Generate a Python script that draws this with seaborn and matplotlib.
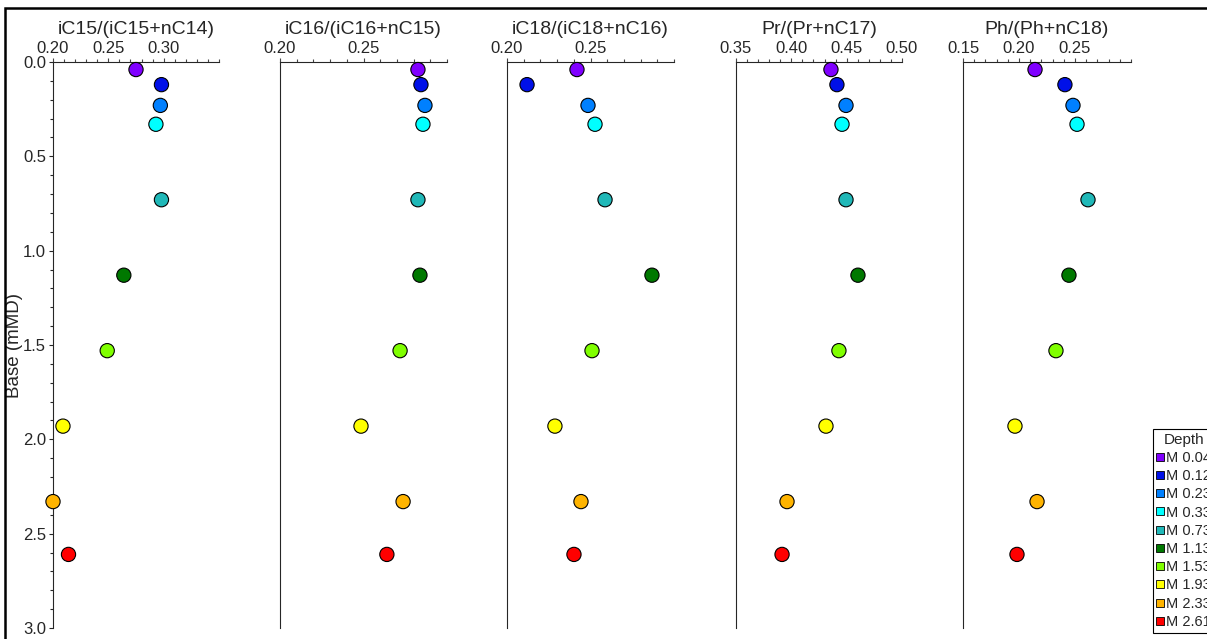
import seaborn as sns
import matplotlib.pyplot as plt
import pandas as pd
from matplotlib.lines import Line2D
from matplotlib.patches import Rectangle
from matplotlib.ticker import MultipleLocator, FixedLocator

sns.set_style("ticks")
plt.rcParams['font.family'] = ['Liberation Sans', 'DejaVu Sans']

# depth of each sample (mMD)
depth = [0.04, 0.12, 0.23, 0.33, 0.73, 1.13, 1.53, 1.93, 2.33, 2.61]
labels = ["M 0.04", "M 0.12", "M 0.23", "M 0.33", "M 0.73",
          "M 1.13", "M 1.53", "M 1.93", "M 2.33", "M 2.61"]
colors = ["#8000ff", "#0010e8", "#0080ff", "#00ffff", "#20b8b8",
          "#007800", "#80ff00", "#ffff00", "#ffb400", "#ff0000"]

ic15 = [0.275, 0.298, 0.297, 0.293, 0.298, 0.264, 0.249, 0.209, 0.200, 0.214]
ic16 = [0.2826, 0.2844, 0.2868, 0.2856, 0.2826, 0.2838, 0.2719, 0.2485, 0.2737, 0.2640]
ic18 = [0.2419, 0.2120, 0.2485, 0.2527, 0.2587, 0.2868, 0.2509, 0.2287, 0.2443, 0.2401]
pr = [0.4358, 0.4412, 0.4494, 0.4458, 0.4494, 0.4602, 0.4430, 0.4313, 0.3961, 0.3916]
ph = [0.2143, 0.2410, 0.2482, 0.2518, 0.2616, 0.2446, 0.2330, 0.1964, 0.2161, 0.1982]

titles = ["iC15/(iC15+nC14)", "iC16/(iC16+nC15)", "iC18/(iC18+nC16)",
          "Pr/(Pr+nC17)", "Ph/(Ph+nC18)"]
xlims = [(0.20, 0.35), (0.20, 0.30), (0.20, 0.30), (0.35, 0.50), (0.15, 0.30)]
xmajor = [[0.20, 0.25, 0.30], [0.20, 0.25], [0.20, 0.25],
          [0.35, 0.40, 0.45, 0.50], [0.15, 0.20, 0.25]]

df = pd.DataFrame({"depth": depth, "label": labels, "iC15": ic15, "iC16": ic16,
                   "iC18": ic18, "Pr": pr, "Ph": ph})
cols = ["iC15", "iC16", "iC18", "Pr", "Ph"]

W, H = 1207, 639
fig = plt.figure(figsize=(W / 100, H / 100), dpi=100)
lefts = [53, 280, 507, 736, 963]
widths = [166, 167, 167, 166, 168]
top, bottom = 62, 628
ah = bottom - top

for i, col in enumerate(cols):
    ax = fig.add_axes([lefts[i] / W, 1 - bottom / H, widths[i] / W, ah / H])
    sns.scatterplot(data=df, x=col, y="depth", hue="label", palette=colors,
                    s=105, edgecolor="black", linewidth=0.8, ax=ax, legend=False,
                    zorder=3, clip_on=False)
    ax.set_xlim(*xlims[i])
    ax.set_ylim(3.0, 0.0)
    ax.xaxis.tick_top()
    ax.xaxis.set_major_locator(FixedLocator(xmajor[i]))
    ax.xaxis.set_minor_locator(MultipleLocator(0.01))
    ax.xaxis.set_major_formatter(plt.FuncFormatter(lambda v, p: f"{v:.2f}"))
    ax.set_xlabel("")
    ax.text(0.5, 1 + 28 / ah, titles[i], transform=ax.transAxes,
            ha="center", va="baseline", fontsize=14)
    for s in ["right", "bottom"]:
        ax.spines[s].set_visible(False)
    ax.spines["top"].set_linewidth(0.8)
    ax.spines["left"].set_linewidth(0.8)
    ax.tick_params(axis="x", which="major", direction="out", length=3, width=0.8,
                   labelsize=12, pad=1, top=True, bottom=False, color="#444444")
    ax.tick_params(axis="x", which="minor", direction="out", length=2, width=0.8,
                   top=True, bottom=False, color="#444444")
    if i == 0:
        ax.yaxis.set_major_locator(MultipleLocator(0.5))
        ax.yaxis.set_minor_locator(MultipleLocator(0.1))
        ax.yaxis.set_major_formatter(plt.FuncFormatter(lambda v, p: f"{v:.1f}"))
        ax.tick_params(axis="y", which="major", direction="out", length=3, width=0.8,
                       labelsize=12, pad=2)
        ax.tick_params(axis="y", which="minor", direction="out", length=2, width=0.8)
        ax.set_ylabel("Base (mMD)", fontsize=13.5)
        ax.yaxis.set_label_coords(-0.18, 0.5)
    else:
        ax.set_yticks([])
        ax.set_ylabel("")

handles = [Line2D([], [], marker="s", linestyle="none", markersize=5.5,
                  markerfacecolor=c, markeredgecolor="black", markeredgewidth=0.6)
           for c in colors]
leg = fig.legend(handles, labels, title="Depth", loc="upper left",
                 bbox_to_anchor=(1153 / W, 1 - 429 / H), borderaxespad=0,
                 fontsize=10.5, title_fontsize=11, fancybox=False, framealpha=1,
                 edgecolor="black", labelspacing=0.29, handlelength=0.5,
                 handletextpad=0.15, borderpad=0.25)
leg.get_frame().set_linewidth(0.8)

fig.add_artist(Rectangle((5 / W, -0.1), 1.2, 1.1 - 8 / H, fill=False,
                         linewidth=1.8, edgecolor="black",
                         transform=fig.transFigure))

fig.savefig("out.png", dpi=100)
